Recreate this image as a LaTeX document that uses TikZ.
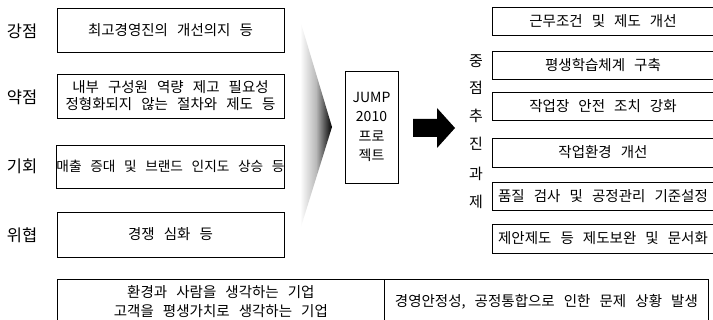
\documentclass[tikz,border=0pt]{standalone}
\usepackage{fontspec}
\setmainfont[WordSpace=2.8]{Noto Sans CJK KR}
\usetikzlibrary{shapes.geometric}
\begin{document}
\begin{tikzpicture}[x=1pt,y=-1pt,
  box/.style={draw, line width=0.8pt, inner sep=0pt, align=center, font=\fontsize{14.5}{18}\selectfont},
  lbox/.style={box, minimum width=227pt, minimum height=44pt},
  rbox/.style={box, minimum width=222pt, minimum height=28pt},
  lab/.style={inner sep=0pt, font=\fontsize{16.5}{18}\selectfont},
  vlab/.style={inner sep=0pt, font=\fontsize{15}{16}\selectfont}]
\useasboundingbox (0,0) rectangle (713,320);
% left SWOT
\node[lab] (ls) at (22,31) {강점};
\node[lab] (lw) at (22,97) {약점};
\node[lab] (lo) at (22,166) {기회};
\node[lab] (lt) at (22,235) {위협};
\node[lbox] (bs) at (170.5,30) {최고경영진의 개선의지 등};
\node[lbox] (bw) at (170.5,96) {내부 구성원 역량 제고 필요성\\[-1pt]정형화되지 않는 절차와 제도 등};
\node[lbox, minimum height=43pt, font=\fontsize{13.7}{18}\selectfont] (bo) at (170.5,166.5) {매출 증대 및 브랜드 인지도 상승 등};
\node[lbox, minimum height=45pt] (bt) at (170.5,234.5) {경쟁 심화 등};
% gradient chevron
\shade[left color=white, right color=black, middle color=gray!55] (300,20) -- (332,127) -- (300,230) -- cycle;
% JUMP box
\node[box, minimum width=53pt, minimum height=112pt, font=\fontsize{14}{19.5}\selectfont] (jump) at (371.5,127) {JUMP\\2010\\프로\\젝트};
% black arrow
\fill (413,119) -- (437,119) -- (437,108) -- (455,128) -- (437,148) -- (437,137) -- (413,137) -- cycle;
% vertical label
\node[vlab] (v1) at (476,61) {중};
\node[vlab] (v2) at (476,88) {점};
\node[vlab] (v3) at (476,116) {추};
\node[vlab] (v4) at (476,144) {진};
\node[vlab] (v5) at (476,174) {과};
\node[vlab] (v6) at (476,202) {제};
% right boxes
\node[rbox] (r1) at (603,21) {근무조건 및 제도 개선};
\node[rbox] (r2) at (603,65) {평생학습체계 구축};
\node[rbox] (r3) at (603,106.5) {작업장 안전 조치 강화};
\node[rbox, minimum height=29pt] (r4) at (603,152.5) {작업환경 개선};
\node[rbox] (r5) at (603,196) {품질 검사 및 공정관리 기준설정};
\node[rbox, minimum height=29pt] (r6) at (603,238.5) {제안제도 등 제도보완 및 문서화};
% bottom boxes
\node[box, minimum width=327pt, minimum height=44pt, anchor=north west, font=\fontsize{14.5}{19}\selectfont] (b1) at (57,279) {환경과 사람을 생각하는 기업\\고객을 평생가치로 생각하는 기업};
\node[box, minimum width=324pt, minimum height=44pt, anchor=north west] (b2) at (384,279) {경영안정성, 공정통합으로 인한 문제 상황 발생};
\end{tikzpicture}
\end{document}
